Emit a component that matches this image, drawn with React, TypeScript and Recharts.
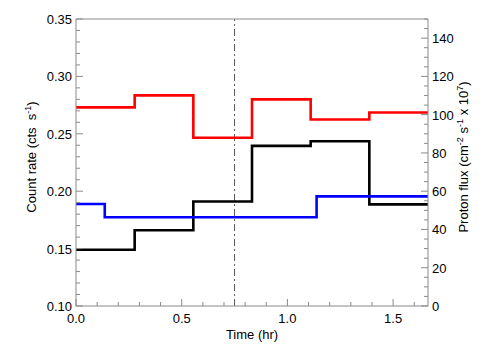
import { LineChart, Line, XAxis, YAxis, ReferenceLine, Label } from "recharts";

// 6 count-rate bins, time in hours
const rateEdges = [0, 0.2775, 0.555, 0.8325, 1.11, 1.3875, 1.665];
const rateRed = [0.273, 0.2835, 0.2465, 0.28, 0.2625, 0.2685];
const rateBlack = [0.149, 0.166, 0.191, 0.2395, 0.2435, 0.1885];

// proton flux (x 10^7) bins
const fluxEdges = [0, 0.136, 1.138, 1.665];
const fluxBlue = [53.3, 46.4, 57.3];

const eventTime = 0.75;

const timeMajor = [0, 0.5, 1.0, 1.5];
const rateMajor = [0.1, 0.15, 0.2, 0.25, 0.3, 0.35];
const fluxMajor = [0, 20, 40, 60, 80, 100, 120, 140];

const seq = (a: number, b: number, step: number) => {
  const out: number[] = [];
  const n = Math.round((b - a) / step);
  for (let i = 0; i <= n; i++) out.push(+(a + i * step).toFixed(4));
  return out;
};
const timeTicks = seq(0, 1.6, 0.1);
const rateTicks = seq(0.1, 0.35, 0.01);
const fluxTicks = seq(0, 150, 5);

const steps = (edges: number[], vals: number[]) =>
  edges.map((t, i) => ({ t, v: vals[Math.min(i, vals.length - 1)] }));

const isMajor = (v: number, majors: number[]) =>
  majors.some((m) => Math.abs(m - v) < 1e-6);

const FONT = "'Liberation Sans', Arial, Helvetica, sans-serif";
const FRAME = "#8a8a8a";
const MAJ = 7;
const MIN = 4;

function BottomTick(props: any) {
  const { x, y, payload } = props;
  const major = isMajor(payload.value, timeMajor);
  return (
    <g>
      <line x1={x} x2={x} y1={y} y2={y - (major ? MAJ : MIN)} stroke={FRAME} />
      {major && (
        <text x={x} y={y + 17} textAnchor="middle" fontSize={13} fontFamily={FONT} fill="#000">
          {payload.value.toFixed(1)}
        </text>
      )}
    </g>
  );
}

function TopTick(props: any) {
  const { x, y, payload } = props;
  const major = isMajor(payload.value, timeMajor);
  return <line x1={x} x2={x} y1={y} y2={y + (major ? MAJ : MIN)} stroke={FRAME} />;
}

function LeftTick(props: any) {
  const { x, y, payload } = props;
  const major = isMajor(payload.value, rateMajor);
  return (
    <g>
      <line x1={x} x2={x + (major ? MAJ : MIN)} y1={y} y2={y} stroke={FRAME} />
      {major && (
        <text x={x - 4} y={y + 5} textAnchor="end" fontSize={13} fontFamily={FONT} fill="#000">
          {payload.value.toFixed(2)}
        </text>
      )}
    </g>
  );
}

function RightTick(props: any) {
  const { x, y, payload } = props;
  const major = isMajor(payload.value, fluxMajor);
  return (
    <g>
      <line x1={x} x2={x - (major ? MAJ : MIN)} y1={y} y2={y} stroke={FRAME} />
      {major && (
        <text x={x + 4} y={y + 5} textAnchor="start" fontSize={13} fontFamily={FONT} fill="#000">
          {payload.value}
        </text>
      )}
    </g>
  );
}

export default function App() {
  return (
    <div style={{ position: "absolute", left: 0, top: 0, background: "#fff" }}>
      <LineChart
        width={504}
        height={360}
        margin={{ top: 9, right: 26, bottom: 24, left: 26 }}
      >
        <XAxis
          xAxisId={0}
          dataKey="t"
          type="number"
          domain={[0, 1.665]}
          allowDataOverflow
          ticks={timeTicks}
          interval={0}
          tickSize={0}
          tickMargin={0}
          tickLine={false}
          tick={<BottomTick />}
          axisLine={{ stroke: FRAME }}
          height={30}
        >
          <Label
            content={() => (
              <text x={252} y={339} textAnchor="middle" fontSize={13} fontFamily={FONT} fill="#000">
                Time (hr)
              </text>
            )}
          />
        </XAxis>
        <XAxis
          xAxisId="top"
          orientation="top"
          type="number"
          domain={[0, 1.665]}
          allowDataOverflow
          ticks={timeTicks}
          interval={0}
          tickSize={0}
          tickMargin={0}
          tickLine={false}
          tick={<TopTick />}
          axisLine={{ stroke: FRAME }}
          height={10}
        />
        <YAxis
          yAxisId="rate"
          type="number"
          domain={[0.1, 0.35]}
          allowDataOverflow
          ticks={rateTicks}
          interval={0}
          tickSize={0}
          tickMargin={0}
          tickLine={false}
          tick={<LeftTick />}
          axisLine={{ stroke: FRAME }}
          width={50}
        >
          <Label
            content={() => (
              <text
                transform="translate(36,157) rotate(-90)"
                textAnchor="middle"
                fontSize={13}
                fontFamily={FONT}
                fill="#000"
              >
                <tspan>{"Count rate (cts \u00a0s"}</tspan>
                <tspan dy={-5} fontSize={9}>-1</tspan>
                <tspan dy={5}>)</tspan>
              </text>
            )}
          />
        </YAxis>
        <YAxis
          yAxisId="flux"
          orientation="right"
          type="number"
          domain={[0, 150]}
          allowDataOverflow
          ticks={fluxTicks}
          interval={0}
          tickSize={0}
          tickMargin={0}
          tickLine={false}
          tick={<RightTick />}
          axisLine={{ stroke: FRAME }}
          width={50}
        >
          <Label
            content={() => (
              <text
                transform="translate(468,157) rotate(-90)"
                textAnchor="middle"
                fontSize={13}
                fontFamily={FONT}
                fill="#000"
              >
                <tspan>Proton flux (cm</tspan>
                <tspan dy={-5} fontSize={9}>-2</tspan>
                <tspan dy={5}>{"\u00a0s"}</tspan>
                <tspan dy={-5} fontSize={9}>-1</tspan>
                <tspan dy={5}>{"\u00a0x 10"}</tspan>
                <tspan dy={-5} fontSize={9}>7</tspan>
                <tspan dy={5}>)</tspan>
              </text>
            )}
          />
        </YAxis>
        <ReferenceLine
          yAxisId="rate"
          x={eventTime}
          stroke="#555"
          strokeDasharray="7 3 2 3"
        />
        <Line
          yAxisId="rate"
          data={steps(rateEdges, rateRed)}
          dataKey="v"
          type="stepAfter"
          stroke="#ff0000"
          strokeWidth={2.6}
          dot={false}
          isAnimationActive={false}
        />
        <Line
          yAxisId="rate"
          data={steps(rateEdges, rateBlack)}
          dataKey="v"
          type="stepAfter"
          stroke="#000000"
          strokeWidth={2.6}
          dot={false}
          isAnimationActive={false}
        />
        <Line
          yAxisId="flux"
          data={steps(fluxEdges, fluxBlue)}
          dataKey="v"
          type="stepAfter"
          stroke="#0000ff"
          strokeWidth={2.6}
          dot={false}
          isAnimationActive={false}
        />
      </LineChart>
    </div>
  );
}
